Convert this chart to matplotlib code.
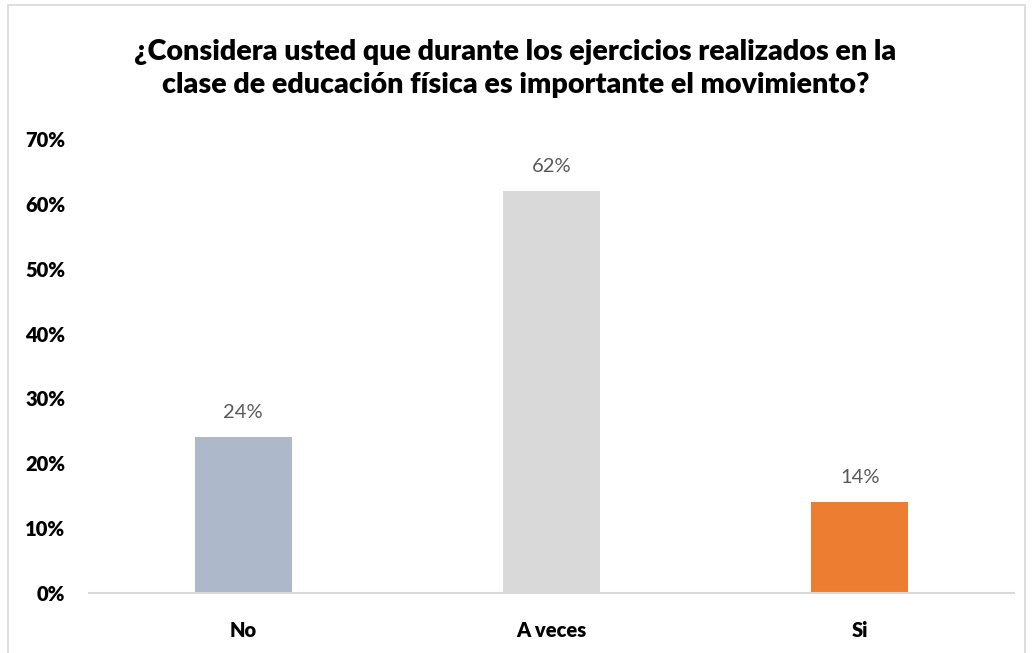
import matplotlib.pyplot as plt
from matplotlib.patches import Rectangle

categories = ["No", "A veces", "Si"]
values = [0.24, 0.62, 0.14]
labels = ["24%", "62%", "14%"]
colors = ["#ADB9CA", "#D9D9D9", "#ED7D31"]
yticks = [0, 0.1, 0.2, 0.3, 0.4, 0.5, 0.6, 0.7]
ytick_labels = ["0%", "10%", "20%", "30%", "40%", "50%", "60%", "70%"]
title = ("¿Considera usted que durante los ejercicios realizados en la\n"
         "clase de educación física es importante el movimiento?")

plt.rcParams['font.family'] = ['Lato', 'DejaVu Sans']

fig = plt.figure(figsize=(10.32, 6.53), dpi=100)
ax = fig.add_axes([0.0862, 0.0919, 0.8964, 0.6952])

x = range(len(categories))
ax.bar(x, values, width=0.315, color=colors)
for i, v in enumerate(values):
    ax.text(i, v + 0.025, labels[i], ha='center', va='bottom',
            fontsize=14.5, color='#595959')

ax.set_xlim(-0.5, 2.5)
ax.set_ylim(0, 0.7)
ax.set_yticks(yticks)
ax.set_yticklabels(ytick_labels, fontsize=14.5, fontweight='heavy')
ax.set_xticks(list(x))
ax.set_xticklabels(categories, fontsize=14.5, fontweight='heavy')
ax.tick_params(length=0)
ax.tick_params(axis='y', pad=17)
ax.tick_params(axis='x', pad=20)

for s in ['top', 'right', 'left']:
    ax.spines[s].set_visible(False)
ax.spines['bottom'].set_color('#D9D9D9')
ax.spines['bottom'].set_linewidth(1.5)

fig.text(0.4995, 0.895, title, ha='center', va='center', fontsize=20.6,
         fontweight='heavy', linespacing=1.35)

# outer chart border
fig.patches.append(Rectangle((8 / 1032, -0.01), 1017 / 1032, 1 - 5 / 653 + 0.01,
                             transform=fig.transFigure, fill=False,
                             edgecolor='#D9D9D9', linewidth=1.2))

fig.savefig("out.png", dpi=100)
